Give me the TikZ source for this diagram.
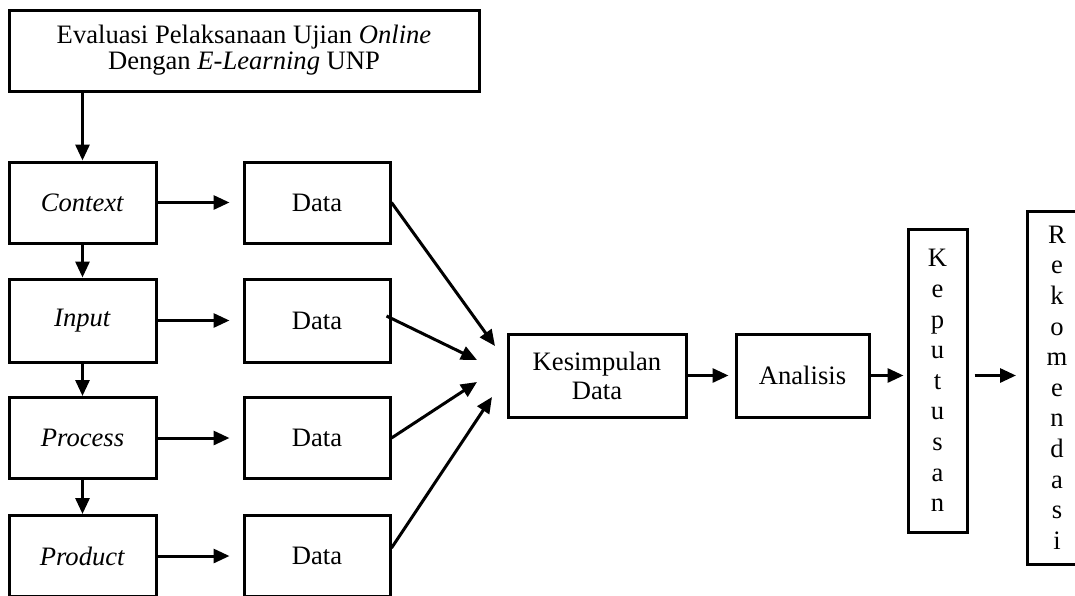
\documentclass[tikz,border=0pt]{standalone}
\usepackage{fontspec}
\setmainfont{Liberation Serif}
\usetikzlibrary{arrows.meta}
\begin{document}
\begin{tikzpicture}[x=0.5pt,y=-0.5pt,line width=1.5pt,line join=miter,>={Triangle[length=8pt,width=7pt]}]
	\tikzset{every node/.style={font=\fontsize{13.3}{14.5}\selectfont},
		kotak/.style={draw,inner sep=0pt,minimum height=40.5pt,align=center},
		tegak/.style={draw,inner sep=0pt,minimum width=29.5pt,align=center,font=\fontsize{13.3}{15.3}\selectfont}}
	\useasboundingbox (0,0) rectangle (1075,595);
	\node[kotak,minimum width=235pt,font=\fontsize{13.3}{13}\selectfont] (judul) at (244,50.5) {Evaluasi Pelaksanaan Ujian \textit{Online}\\Dengan \textit{E-Learning} UNP};
	\node[kotak,minimum width=73.5pt] (context) at (82.5,202.5) {\textit{Context}};
	\node[kotak,minimum width=73.5pt,minimum height=41.5pt] (input) at (82.5,320.5) {\textit{Input}};
	\node[kotak,minimum width=73.5pt] (process) at (82.5,438) {\textit{Process}};
	\node[kotak,minimum width=73.5pt] (product) at (82.5,556) {\textit{Product}};
	\node[kotak,minimum width=73pt] (data1) at (317,202.5) {Data};
	\node[kotak,minimum width=73pt,minimum height=41.5pt] (data2) at (317,320.5) {Data};
	\node[kotak,minimum width=73pt] (data3) at (317,438) {Data};
	\node[kotak,minimum width=73pt] (data4) at (317,556) {Data};
	\node[kotak,minimum width=89pt,minimum height=41.5pt] (kesimpulan) at (597,375.5) {Kesimpulan\\Data};
	\node[kotak,minimum width=66.5pt,minimum height=41.5pt] (analisis) at (802.5,375.5) {Analisis};
	\node[tegak,minimum height=151.5pt] (keputusan) at (937.5,380.5) {K\\e\\p\\u\\t\\u\\s\\a\\n};
	\node[tegak,minimum height=176.5pt] (rekomendasi) at (1057,387.5) {R\\e\\k\\o\\m\\e\\n\\d\\a\\s\\i};
	% ujung panah yang menuju kesimpulan
	\coordinate (k1) at (495,346);
	\coordinate (k2) at (477,360);
	\coordinate (k3) at (477,382);
	\coordinate (k4) at (492,397);
	\draw[->] (judul.south -| context.north) -- (context.north);
	\foreach \a/\b in {context/input,input/process,process/product}
		\draw[->] (\a.south) -- (\b.north);
	\foreach \a/\b in {context/data1,input/data2,process/data3,product/data4}
		\draw[->,shorten >=6.5pt] (\a.east) -- (\b.west);
	\draw[->] (data1.east) -- (k1);
	\draw[->] ([xshift=-2.5pt,yshift=2.25pt]data2.east) -- (k2);
	\draw[->] (data3.east) -- (k3);
	\draw[->] ([yshift=4pt]data4.east) -- (k4);
	\draw[->,shorten >=3pt] (kesimpulan.east) -- (analisis.west);
	\draw[->,shorten >=1.5pt] (analisis.east) -- (analisis.east -| keputusan.west);
	\draw[->,shorten <=3pt,shorten >=5pt] (keputusan.east |- analisis) -- (analisis -| rekomendasi.west);
\end{tikzpicture}
\end{document}
